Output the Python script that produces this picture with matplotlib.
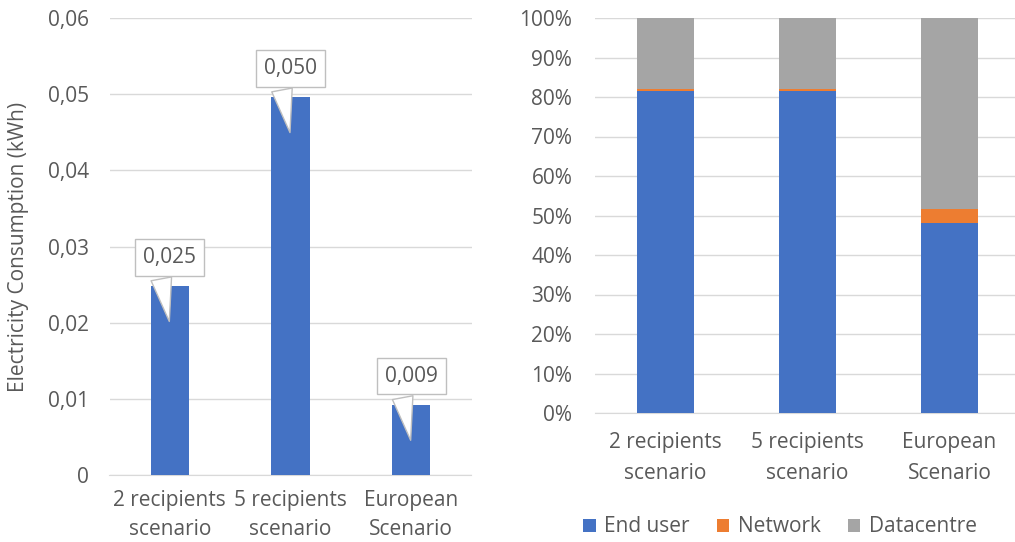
import matplotlib
matplotlib.use('Agg')
from matplotlib import pyplot as plt
from matplotlib.ticker import FuncFormatter

# Data
scenarios = ['2 recipients\nscenario', '5 recipients\nscenario', 'European\nScenario']
consumption = [0.0248, 0.0496, 0.0092]
consumption_labels = ['0,025', '0,050', '0,009']

end_user = [81.5, 81.5, 48.0]
network = [0.6, 0.6, 3.7]
datacentre = [17.9, 17.9, 48.3]

plt.rcParams['font.family'] = ['Open Sans', 'DejaVu Sans']
text_color = '#595959'
grid_color = '#d9d9d9'
blue = '#4472c4'
orange = '#ed7d31'
gray = '#a5a5a5'
fs = 15

fig = plt.figure(figsize=(10.15, 5.42), dpi=100)
W, H = 1015, 542

# Left chart: absolute consumption
ax1 = fig.add_axes([109.5 / W, (H - 475) / H, 362 / W, 457 / H])
x = range(len(scenarios))
ax1.bar(x, consumption, width=0.32, color=blue, zorder=3)
ax1.set_xlim(-0.5, 2.5)
ax1.set_ylim(0, 0.06)
ax1.set_yticks([0, 0.01, 0.02, 0.03, 0.04, 0.05, 0.06])
ax1.yaxis.set_major_formatter(FuncFormatter(
    lambda v, p: '0' if v == 0 else ('%.2f' % v).replace('.', ',')))
ax1.set_xticks(list(x))
ax1.set_xticklabels(scenarios, linespacing=1.5)
ax1.grid(axis='y', color=grid_color, linewidth=1, zorder=0)
for s in ['top', 'right', 'left']:
    ax1.spines[s].set_visible(False)
ax1.spines['bottom'].set_color(grid_color)
ax1.tick_params(axis='both', length=0, labelsize=fs, colors=text_color)
ax1.tick_params(axis='y', pad=15)
ax1.tick_params(axis='x', pad=11)
ax1.set_ylabel('Electricity Consumption (kWh)', fontsize=fs, color=text_color)
ax1.yaxis.set_label_coords(-0.222, 0.5)

# callouts
for i, (v, lab) in enumerate(zip(consumption, consumption_labels)):
    ax1.annotate(lab, xy=(i, v - 0.005), xytext=(0, 67), textcoords='offset pixels',
                 ha='center', va='center', fontsize=fs, color=text_color, zorder=5,
                 bbox=dict(boxstyle='square,pad=0.38', fc='white', ec='#bfbfbf', lw=1),
                 arrowprops=dict(arrowstyle='wedge,tail_width=1.0,shrink_factor=0.5',
                                 fc='white', ec='#bfbfbf', lw=1, relpos=(0.3, 0)))

# Right chart: shares
ax2 = fig.add_axes([594.5 / W, (H - 413) / H, 426 / W, 395 / H])
ax2.bar(x, end_user, width=0.4, color=blue, label='End user', zorder=3)
ax2.bar(x, network, width=0.4, bottom=end_user, color=orange, label='Network', zorder=3)
bottoms = [a + b for a, b in zip(end_user, network)]
ax2.bar(x, datacentre, width=0.4, bottom=bottoms, color=gray, label='Datacentre', zorder=3)
ax2.set_xlim(-0.5, 2.5)
ax2.set_ylim(0, 100)
ax2.set_yticks(range(0, 101, 10))
ax2.yaxis.set_major_formatter(FuncFormatter(lambda v, p: '%d%%' % v))
ax2.set_xticks(list(x))
ax2.set_xticklabels(scenarios, linespacing=1.6)
ax2.grid(axis='y', color=grid_color, linewidth=1, zorder=0)
for s in ['top', 'right', 'left']:
    ax2.spines[s].set_visible(False)
ax2.spines['bottom'].set_color(grid_color)
ax2.tick_params(axis='both', length=0, labelsize=fs, colors=text_color)
ax2.tick_params(axis='y', pad=16)
ax2.tick_params(axis='x', pad=14)
ax2.legend(loc='center', bbox_to_anchor=(780 / W, (H - 527) / H),
           bbox_transform=fig.transFigure, ncol=3, frameon=False, fontsize=fs,
           labelcolor=text_color, handlelength=0.6, handleheight=0.6,
           handletextpad=0.4, columnspacing=1.3)

fig.savefig('out.png', dpi=100)
